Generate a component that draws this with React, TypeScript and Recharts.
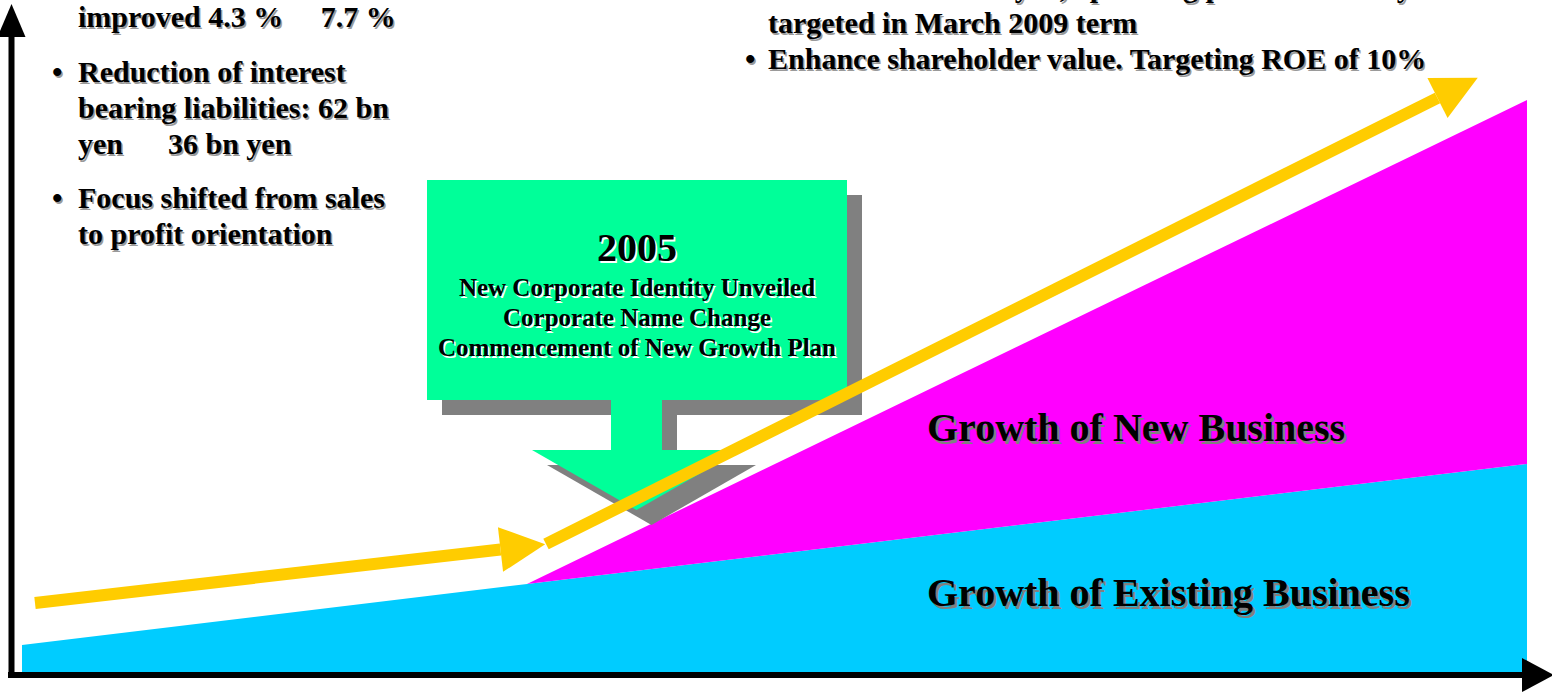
import React from 'react';
import { ComposedChart, Area, Line, XAxis, YAxis } from 'recharts';

const W = 1552;
const H = 696;

// Horizontal: time (1 unit = 10 px). Vertical: business size (0 = base line).
const periods = [2.2, 52.7, 152.7];
const existingBusiness = [2.7, 8.8, 20.8];
const newBusiness: (number | null)[] = [null, 0, 36.4];

// Momentum arrows (start -> end of shaft)
const trendBefore = [{ x: 3.5, y: 6.9 }, { x: 50.05, y: 12.25 }];
const trendAfter = [{ x: 54.6, y: 12.8 }, { x: 143.75, y: 57.4 }];

// Diagram axes
const valueAxis = [{ x: 1.15, y: -0.6 }, { x: 1.15, y: 63.5 }];
const timeAxis = [{ x: 0.8, y: -0.3 }, { x: 152.2, y: -0.3 }];

// Callout "2005"
const callout = {
  left: 42.7, right: 84.7, top: 49.2, bottom: 27.2,
  stemLeft: 61.1, stemRight: 66.2,
  headTop: 22.2, headLeft: 53.2, headRight: 74.1, tipX: 63.65, tipY: 16.2,
};
const SH = 1.5;

const leftNotes = [
  { bullet: false, lines: ['improved 4.3 %     7.7 %'] },
  { bullet: true, lines: ['Reduction of interest', 'bearing liabilities: 62 bn', 'yen      36 bn yen'] },
  { bullet: true, lines: ['Focus shifted from sales', 'to profit orientation'] },
];
const rightNotes = [
  { bullet: true, lines: ['Sales of 100 billion yen, operating profit of 10 bn yen', 'targeted in March 2009 term'] },
  { bullet: true, lines: ['Enhance shareholder value. Targeting ROE of 10%'] },
];
const calloutTitle = '2005';
const calloutLines = ['New Corporate Identity Unveiled', 'Corporate Name Change', 'Commencement of New Growth Plan'];
const areaLabels = ['Growth of New Business', 'Growth of Existing Business'];

const growthData = periods.map((x, i) => ({ x, existing: existingBusiness[i] }));
const newData = periods
  .map((x, i) => ({ x, nb: newBusiness[i] }))
  .filter((d) => d.nb != null)
  .map((d) => {
    const i = periods.indexOf(d.x);
    return { x: d.x, band: [existingBusiness[i], existingBusiness[i] + (d.nb as number)] };
  });

function rectBand(l: number, r: number, lo: number, hi: number) {
  return [{ x: l, band: [lo, hi] }, { x: r, band: [lo, hi] }];
}
function headBand(dx: number, dy: number) {
  const c = callout;
  return [
    { x: c.headLeft + dx, band: [c.headTop + dy, c.headTop + dy] },
    { x: c.tipX + dx, band: [c.tipY + dy, c.headTop + dy] },
    { x: c.headRight + dx, band: [c.headTop + dy, c.headTop + dy] },
  ];
}

function makeHead(len: number, width: number, fill: string) {
  let first: { x: number; y: number } | null = null;
  return (props: any) => {
    const { cx, cy, index, points } = props;
    const n = points && points.length ? points.length : 2;
    if (index === 0) {
      first = { x: cx, y: cy };
    }
    if (index !== n - 1) return <g key={`h-${index}`} />;
    const prev = points && points[index - 1] ? points[index - 1] : first;
    if (!prev) return <g key={`h-${index}`} />;
    const dx = cx - prev.x;
    const dy = cy - prev.y;
    const L = Math.hypot(dx, dy) || 1;
    const ux = dx / L;
    const uy = dy / L;
    const px = -uy;
    const py = ux;
    const pts = [
      [cx + ux * len, cy + uy * len],
      [cx + px * width / 2, cy + py * width / 2],
      [cx - px * width / 2, cy - py * width / 2],
    ]
      .map((p) => p.join(','))
      .join(' ');
    return <polygon key={`h-${index}`} points={pts} fill={fill} />;
  };
}

const FONT = "'Liberation Serif', 'Times New Roman', serif";

function SText({ x, y, size, children, anchor = 'start', shadow = '#9a9a9a', off = 1.5 }: any) {
  return (
    <g fontFamily={FONT} fontWeight="bold" fontSize={size} textAnchor={anchor} style={{ whiteSpace: 'pre' }}>
      <text x={x + off} y={y + off} fill={shadow} xmlSpace="preserve">{children}</text>
      <text x={x} y={y} fill="#000" xmlSpace="preserve">{children}</text>
    </g>
  );
}

export default function App() {
  const c = callout;
  const leftBase = [27, 82, 118, 154, 208, 244];
  const rightBase = [-3, 33, 69];
  let li = 0;
  let ri = 0;
  return (
    <div style={{ position: 'absolute', left: 0, top: 0, width: W, height: H, background: '#fff' }}>
      <ComposedChart width={W} height={H} margin={{ top: 0, right: 0, bottom: 0, left: 0 }}>
        <XAxis type="number" dataKey="x" domain={[0, 155.2]} hide allowDataOverflow />
        <YAxis type="number" domain={[-2.4, 67.2]} hide allowDataOverflow />

        <Area data={growthData} dataKey="existing" type="linear" fill="#00CCFF" fillOpacity={1} stroke="none" isAnimationActive={false} activeDot={false} />
        <Area data={newData} dataKey="band" type="linear" fill="#FF00FF" fillOpacity={1} stroke="none" isAnimationActive={false} activeDot={false} />

        {/* callout shadow */}
        <Area data={rectBand(c.left + SH, c.right + SH, c.bottom - SH, c.top - SH)} dataKey="band" type="linear" fill="#808080" fillOpacity={1} stroke="none" isAnimationActive={false} activeDot={false} />
        <Area data={rectBand(c.stemLeft + SH, c.stemRight + SH, c.headTop - SH - 0.1, c.bottom - SH + 0.1)} dataKey="band" type="linear" fill="#808080" fillOpacity={1} stroke="none" isAnimationActive={false} activeDot={false} />
        <Area data={headBand(SH, -SH)} dataKey="band" type="linear" fill="#808080" fillOpacity={1} stroke="none" isAnimationActive={false} activeDot={false} />

        {/* callout */}
        <Area data={rectBand(c.left, c.right, c.bottom, c.top)} dataKey="band" type="linear" fill="#00FF99" fillOpacity={1} stroke="none" isAnimationActive={false} activeDot={false} />
        <Area data={rectBand(c.stemLeft, c.stemRight, c.headTop - 0.1, c.bottom + 0.1)} dataKey="band" type="linear" fill="#00FF99" fillOpacity={1} stroke="none" isAnimationActive={false} activeDot={false} />
        <Area data={headBand(0, 0)} dataKey="band" type="linear" fill="#00FF99" fillOpacity={1} stroke="none" isAnimationActive={false} activeDot={false} />

        {/* momentum arrows */}
        <Line data={trendBefore} dataKey="y" type="linear" stroke="#FFCC00" strokeWidth={12} dot={makeHead(45, 45, '#FFCC00')} activeDot={false} isAnimationActive={false} />
        <Line data={trendAfter} dataKey="y" type="linear" stroke="#FFCC00" strokeWidth={12} dot={makeHead(45, 45, '#FFCC00')} activeDot={false} isAnimationActive={false} />

        {/* axes */}
        <Line data={valueAxis} dataKey="y" type="linear" stroke="#000" strokeWidth={6} dot={makeHead(33, 28, '#000')} activeDot={false} isAnimationActive={false} />
        <Line data={timeAxis} dataKey="y" type="linear" stroke="#000" strokeWidth={6} dot={makeHead(32, 34, '#000')} activeDot={false} isAnimationActive={false} />
      </ComposedChart>

      <svg width={W} height={H} style={{ position: 'absolute', left: 0, top: 0, pointerEvents: 'none' }}>
        {leftNotes.map((note, ni) => (
          <g key={`ln-${ni}`}>
            {note.lines.map((ln, k) => {
              const y = leftBase[li++];
              return (
                <g key={k}>
                  {note.bullet && k === 0 && <SText x={52} y={y} size={30}>•</SText>}
                  <SText x={78} y={y} size={30}>{ln}</SText>
                </g>
              );
            })}
          </g>
        ))}
        {rightNotes.map((note, ni) => (
          <g key={`rn-${ni}`}>
            {note.lines.map((ln, k) => {
              const y = rightBase[ri++];
              return (
                <g key={k}>
                  {note.bullet && k === 0 && <SText x={745} y={y} size={30}>•</SText>}
                  <SText x={768} y={y} size={30}>{ln}</SText>
                </g>
              );
            })}
          </g>
        ))}

        <SText x={637} y={261} size={40} anchor="middle" shadow="#ffffff" off={1.5}>{calloutTitle}</SText>
        {calloutLines.map((ln, k) => (
          <SText key={k} x={637} y={296 + k * 30} size={25} anchor="middle" shadow="#ffffff" off={1.5}>{ln}</SText>
        ))}

        <SText x={927} y={441} size={40} shadow="#808080" off={2.5}>{areaLabels[0]}</SText>
        <SText x={927} y={606} size={40} shadow="#808080" off={2.5}>{areaLabels[1]}</SText>
      </svg>
    </div>
  );
}
